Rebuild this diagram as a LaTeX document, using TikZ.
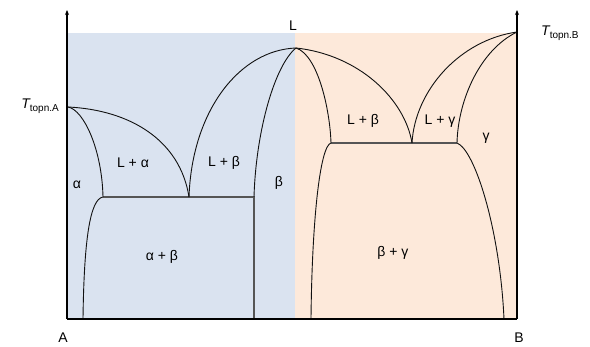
\documentclass[tikz,border=0pt]{standalone}
\usepackage{fontspec}
\setmainfont{Liberation Sans}
\usetikzlibrary{arrows.meta}
\definecolor{PhBlue}{HTML}{DAE3F0}
\definecolor{PhOrange}{HTML}{FDE9DA}
\definecolor{PhLine}{HTML}{111111}
\definecolor{PhGrey}{HTML}{555555}
\newcommand{\PhText}{\fontsize{14}{16}\selectfont}
\newcommand{\PhSub}{\fontsize{10}{12}\selectfont}
\newcommand{\Tmelt}[1]{{\itshape T}\raisebox{-0.45ex}{\PhSub topn.#1}}
\tikzset{
  axisline/.style={draw=black, line width=1.3pt},
  axisarrow/.style={axisline, -{Stealth[length=5pt,width=4pt]}},
  phasecurve/.style={draw=PhLine, line width=0.9pt},
  tieline/.style={draw=PhGrey, line width=1.3pt},
  phaselabel/.style={font=\PhText, text=black, inner sep=1pt}
}
\begin{document}
\begin{tikzpicture}[x=1pt,y=-1pt]
\path[use as bounding box] (0,0) rectangle (590,347);

% fields
\fill[PhBlue] (67,33) rectangle (295,319);
\fill[PhOrange] (295,33) rectangle (517,319);

% key points
\coordinate (TA) at (68,107);
\coordinate (TB) at (517,32);
\coordinate (Lpk) at (296,48);
\coordinate (E1) at (189,197);
\coordinate (E1a) at (103,197);
\coordinate (E1b) at (254,197);
\coordinate (P) at (412,143);
\coordinate (Pa) at (331,143);
\coordinate (Pb) at (457,143);

% tie lines
\draw[tieline] (E1a) -- (E1b) -- (254,319);
\draw[tieline] (Pa) -- (Pb);

% left part
\draw[phasecurve] (TA) .. controls (130,110) and (180,140) .. (E1);
\draw[phasecurve] (TA) .. controls (84,110) and (102,150) .. (E1a);
\draw[phasecurve] (E1a) .. controls (90,199) and (84,240) .. (83,319);
\draw[phasecurve] (Lpk) .. controls (240,50) and (192,110) .. (E1);
\draw[phasecurve] (Lpk) .. controls (275,65) and (256,130) .. (E1b);

% right part
\draw[phasecurve] (Lpk) .. controls (318,55) and (330,110) .. (Pa);
\draw[phasecurve] (Lpk) .. controls (360,55) and (405,100) .. (P);
\draw[phasecurve] (TB) .. controls (460,40) and (415,90) .. (P);
\draw[phasecurve] (TB) .. controls (480,50) and (458,100) .. (Pb);
\draw[phasecurve] (Pa) .. controls (320,146) and (312,220) .. (311,319);
\draw[phasecurve] (Pb) .. controls (475,150) and (500,230) .. (504,319);

% axes
\draw[axisarrow] (67,319) -- (67,10);
\draw[axisarrow] (517,319) -- (517,10);
\draw[axisline] (67,319) -- (517,319);

% labels
\node[phaselabel] (lblL) at (293,26) {L};
\node[phaselabel, anchor=east] (lblTA) at (60,106) {\Tmelt{A}};
\node[phaselabel, anchor=west] (lblTB) at (540,33) {\Tmelt{B}};
\node[phaselabel] (lblA) at (63,338) {A};
\node[phaselabel] (lblB) at (519,338) {B};
\node[phaselabel] (alpha) at (77,185) {α};
\node[phaselabel] (lalpha) at (133,163) {L + α};
\node[phaselabel] (lbetaA) at (224,163) {L + β};
\node[phaselabel] (beta) at (279,183) {β};
\node[phaselabel] (albe) at (162,257) {α + β};
\node[phaselabel] (lbetaB) at (363,121) {L + β};
\node[phaselabel] (lgamma) at (440,121) {L + γ};
\node[phaselabel] (gamma) at (486,138) {γ};
\node[phaselabel] (begam) at (393,253) {β + γ};
\end{tikzpicture}
\end{document}
